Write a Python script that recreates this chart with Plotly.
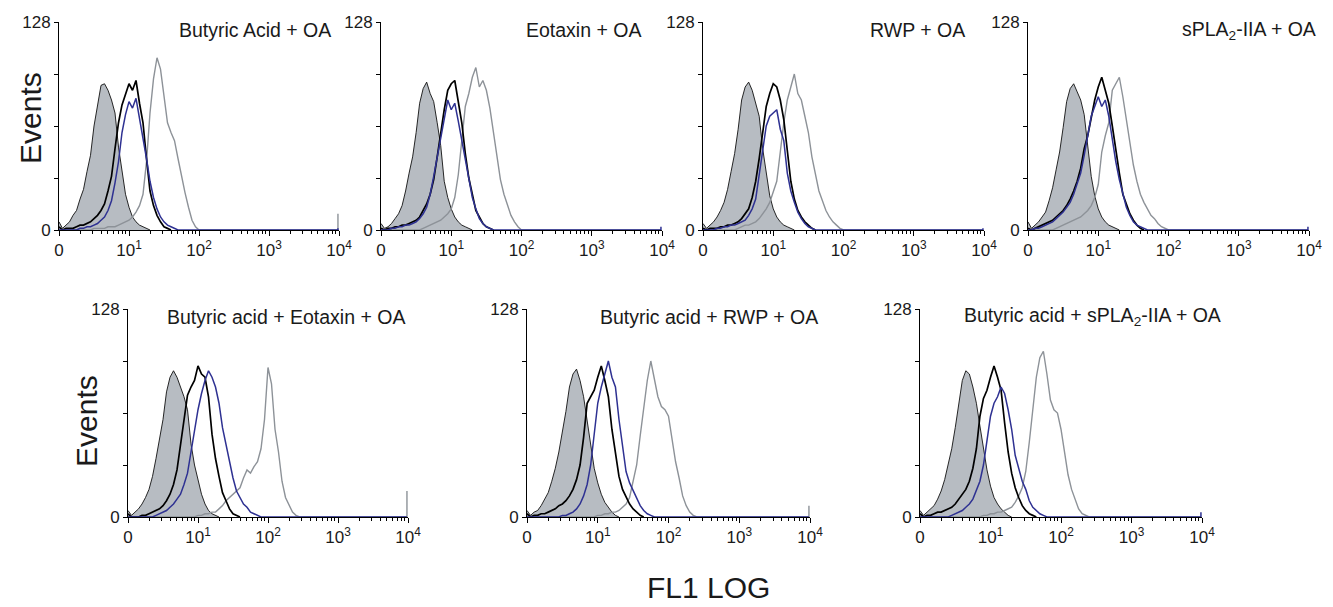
import math
import plotly.graph_objects as go

# FL1 channel positions in decades (0 .. 2.5), shared by all histograms
GRID = [round(i * 0.05, 2) for i in range(51)]

TITLES = ["Butyric Acid + OA", "Eotaxin + OA", "RWP + OA", "sPLA<sub>2</sub>-IIA + OA",
          "Butyric acid + Eotaxin + OA", "Butyric acid + RWP + OA",
          "Butyric acid + sPLA<sub>2</sub>-IIA + OA"]

X_TICK_VALS = [0, 1, 2, 3, 4]
X_TICK_TEXT = ["0", "10<sup>1</sup>", "10<sup>2</sup>", "10<sup>3</sup>", "10<sup>4</sup>"]
Y_TICK_VALS = [0, 128]
Y_TICK_TEXT = ["0", "128"]
Y_MINOR_VALS = [32, 64, 96]

# event counts per channel (filled grey = control, black, blue, grey line)
ISO1 = [5,1,3,5,9,12,19,25,36,46,64,78,89,90,86,80,72,51,35,22,14,8,5,3,2,1,0]
BLK1 = [2,0,1,1,1,2,3,3,4,5,7,9,12,16,24,33,50,66,77,83,90,86,92,78,66,44,24,15,9,5,2,1,0]
BLU1 = [0,0,0,0,0,0,1,1,2,2,3,4,6,8,12,18,29,42,60,71,79,75,81,69,57,44,30,20,13,8,5,3,2,1,0]
GRY1 = [0,0,0,0,0,0,0,0,0,0,1,1,1,1,2,2,2,3,4,5,6,8,11,15,22,42,72,93,106,99,84,66,60,55,44,33,23,14,6,2,0]

ISO2 = [4,1,2,4,7,10,15,24,35,45,60,78,87,91,84,79,66,52,30,20,13,8,5,3,2,1,0]
BLK2 = [1,0,1,1,2,2,3,3,4,5,6,8,12,16,22,31,45,60,74,86,90,92,80,66,47,32,22,12,8,4,2,1,0]
BLU2 = [0,0,0,1,1,2,2,3,3,4,5,7,10,14,22,33,45,58,70,80,74,78,67,55,42,30,20,13,7,4,2,1,0]
GRY2 = [0,0,0,0,0,0,0,0,0,0,0,0,1,2,3,4,5,6,8,10,13,20,34,55,76,84,94,100,88,92,86,75,60,45,31,22,15,9,5,2,0]

ISO3 = [4,1,3,5,8,12,17,25,36,47,62,80,88,91,86,78,70,50,34,21,13,8,5,3,2,1,0]
BLK3 = [1,0,1,1,1,2,2,3,3,4,5,7,10,13,20,30,44,60,76,84,90,88,80,68,49,30,19,12,8,5,3,1,0]
BLU3 = [0,0,0,0,1,1,2,2,3,3,4,5,6,9,13,19,35,50,64,70,72,74,62,55,35,24,17,11,7,4,2,1,0]
GRY3 = [0,0,0,0,0,0,0,0,0,0,1,2,3,3,4,5,7,10,13,17,23,30,48,66,80,88,96,84,80,70,60,45,34,24,18,12,8,5,3,1,0]

ISO4 = [5,1,3,5,8,11,18,26,37,48,63,79,87,90,85,80,71,52,33,21,13,8,5,3,2,1,0]
BLK4 = [1,0,1,2,3,4,5,6,8,10,12,15,19,24,30,38,50,58,70,80,88,94,86,78,64,48,35,22,16,10,6,3,1,0]
BLU4 = [0,0,1,1,2,3,4,5,7,9,11,14,17,22,28,35,46,58,70,76,82,76,80,70,55,42,31,22,14,9,5,3,2,1,0]
GRY4 = [0,0,0,0,0,0,0,0,1,2,3,4,5,6,7,8,10,12,15,20,28,48,58,66,86,90,94,82,68,52,40,30,22,17,13,9,7,4,2,1,0]

ISO5 = [4,1,3,5,8,12,17,25,36,47,60,77,86,90,86,80,74,66,45,32,22,14,8,4,2,1,0]
BLK5 = [2,0,0,0,1,1,2,3,4,5,7,10,14,20,29,44,62,75,80,84,93,88,86,74,51,36,25,15,10,5,2,1,0]
BLU5 = [0,0,0,0,0,0,0,0,1,2,3,4,6,8,11,14,20,27,40,54,66,76,84,90,86,80,70,55,44,33,24,16,12,8,6,3,2,1,0]
GRY5 = [0,0,0,0,0,0,0,0,0,0,0,0,0,0,0,0,0,0,0,0,1,1,2,2,3,3,5,7,10,12,14,16,18,24,29,27,31,34,42,60,92,82,54,40,22,12,7,3,1,0]

ISO6 = [4,1,3,4,7,11,15,22,30,40,52,65,80,88,91,84,74,60,45,30,21,14,9,6,3,1,0]
BLK6 = [2,0,1,1,2,2,3,4,5,7,8,10,13,17,23,32,49,70,74,78,86,93,84,74,54,38,25,17,12,8,5,3,1,0]
BLU6 = [0,0,0,0,0,0,0,0,0,0,1,1,2,3,5,8,13,20,32,50,70,80,88,96,86,80,60,45,28,21,16,11,7,4,2,1,0]
GRY6 = [0,0,0,0,0,0,0,0,0,0,0,0,0,0,0,0,0,0,0,0,1,1,2,2,3,3,4,6,8,12,22,32,50,68,84,96,84,74,68,66,62,48,34,24,13,7,3,1,0]

ISO7 = [4,1,3,5,7,11,16,23,32,42,55,70,84,90,88,80,70,56,42,29,19,12,8,5,3,1,0]
BLK7 = [2,0,1,1,2,3,3,4,5,6,8,11,14,17,22,30,42,62,73,78,86,93,86,78,58,40,27,18,12,7,4,2,1,0]
BLU7 = [0,0,0,0,0,0,0,0,0,1,2,3,4,6,8,11,16,22,32,46,62,70,74,80,76,66,54,38,30,22,17,10,6,4,2,1,0]
GRY7 = [0,0,0,0,0,0,0,0,0,0,0,0,0,0,0,0,0,0,1,1,2,2,3,3,4,5,6,9,13,18,28,46,66,86,98,102,88,72,66,64,54,40,26,17,11,5,2,1,0]

# counts piled up in the last channel (10^4)
END_GRY = [10, 0, 0, 0, 16, 7, 0]
END_BLU = [1, 2, 1, 2, 0, 0, 3]

ISO = [ISO1, ISO2, ISO3, ISO4, ISO5, ISO6, ISO7]
BLK = [BLK1, BLK2, BLK3, BLK4, BLK5, BLK6, BLK7]
BLU = [BLU1, BLU2, BLU3, BLU4, BLU5, BLU6, BLU7]
GRY = [GRY1, GRY2, GRY3, GRY4, GRY5, GRY6, GRY7]

# ---- layout (pixels of a 1333 x 607 canvas) ----
W, H = 1333, 607
PANEL_X = [(59, 339), (381, 662), (703, 984), (1028, 1309), (128, 408), (527, 810), (920, 1202)]
PANEL_Y = [(22, 230)] * 4 + [(309, 517)] * 3
TITLE_RIGHT = [333, 643, 967, 1318, 407, 820, 1223]

C_FILL = "#b7bcc2"
C_BLUE = "#2e3192"
C_GREY = "#8d9298"
FONT = "Liberation Sans, Arial, sans-serif"
TXT = "#1a1a1a"

MINOR = [d + math.log10(k) for d in range(4) for k in range(2, 10)]

fig = go.Figure()
layout = dict(width=W, height=H, margin=dict(l=0, r=0, t=0, b=0, autoexpand=False),
              paper_bgcolor="white", plot_bgcolor="white", showlegend=False,
              font=dict(family=FONT, color=TXT))
annotations = []

for i in range(7):
    n = i + 1
    xa = "x" if n == 1 else f"x{n}"
    ya = "y" if n == 1 else f"y{n}"

    def xs(v):
        return GRID[:len(v)]

    # control (filled)
    fig.add_trace(go.Scatter(x=xs(ISO[i]), y=ISO[i], xaxis=xa, yaxis=ya, mode="lines",
                             fill="tozeroy", fillcolor=C_FILL,
                             line=dict(color="#111111", width=0.9)))
    # grey line
    gx = xs(GRY[i]) + [3.985, 3.985, 3.985]
    gy = GRY[i] + [0, END_GRY[i], 0]
    fig.add_trace(go.Scatter(x=gx, y=gy, xaxis=xa, yaxis=ya, mode="lines",
                             line=dict(color=C_GREY, width=1.4)))
    # black line
    fig.add_trace(go.Scatter(x=xs(BLK[i]), y=BLK[i], xaxis=xa, yaxis=ya, mode="lines",
                             line=dict(color="#000000", width=1.7)))
    # blue line
    bx = xs(BLU[i]) + [3.985, 3.985, 3.985]
    by = BLU[i] + [0, END_BLU[i], 0]
    fig.add_trace(go.Scatter(x=bx, y=by, xaxis=xa, yaxis=ya, mode="lines",
                             line=dict(color=C_BLUE, width=1.5)))

    x0, x1 = PANEL_X[i]
    yt, yb = PANEL_Y[i]
    layout["xaxis" if n == 1 else f"xaxis{n}"] = dict(
        domain=[x0 / W, x1 / W], anchor=ya, range=[0, 4], automargin=False,
        showline=True, linecolor="black", linewidth=1, showgrid=False, zeroline=False,
        ticks="outside", ticklen=5, tickwidth=1, tickcolor="black",
        tickmode="array", tickvals=X_TICK_VALS, ticktext=X_TICK_TEXT,
        tickfont=dict(size=17, family=FONT, color=TXT),
        minor=dict(tickmode="array", tickvals=MINOR, ticks="outside", ticklen=3,
                   tickwidth=1, tickcolor="black", showgrid=False),
        fixedrange=True)
    layout["yaxis" if n == 1 else f"yaxis{n}"] = dict(
        domain=[1 - yb / H, 1 - yt / H], anchor=xa, range=[0, 128], automargin=False,
        showline=True, linecolor="black", linewidth=1, showgrid=False, zeroline=False,
        ticks="outside", ticklen=4, tickwidth=1, tickcolor="black",
        tickmode="array", tickvals=Y_TICK_VALS, ticktext=Y_TICK_TEXT,
        tickfont=dict(size=17, family=FONT, color=TXT),
        minor=dict(tickmode="array", tickvals=Y_MINOR_VALS, ticks="outside", ticklen=4,
                   tickwidth=1, tickcolor="black", showgrid=False),
        fixedrange=True)
    annotations.append(dict(text=TITLES[i], x=TITLE_RIGHT[i] / W, y=1 - (yt + 8) / H,
                            xref="paper", yref="paper", xanchor="right", yanchor="middle",
                            showarrow=False, font=dict(size=19.5, family=FONT, color=TXT)))

annotations.append(dict(text="Events", x=30 / W, y=1 - 118 / H, xref="paper", yref="paper",
                        textangle=-90, showarrow=False, xanchor="center", yanchor="middle",
                        font=dict(size=30, family=FONT, color=TXT)))
annotations.append(dict(text="Events", x=86 / W, y=1 - 421 / H, xref="paper", yref="paper",
                        textangle=-90, showarrow=False, xanchor="center", yanchor="middle",
                        font=dict(size=30, family=FONT, color=TXT)))
annotations.append(dict(text="FL1 LOG", x=708 / W, y=1 / H, xref="paper", yref="paper",
                        showarrow=False, xanchor="center", yanchor="bottom",
                        font=dict(size=30, family=FONT, color=TXT)))
layout["annotations"] = annotations
fig.update_layout(**layout)
fig.write_html("out.html", config={"displayModeBar": False},
               post_script="document.body.style.margin='0px';"
                           "document.body.style.overflow='hidden';")
